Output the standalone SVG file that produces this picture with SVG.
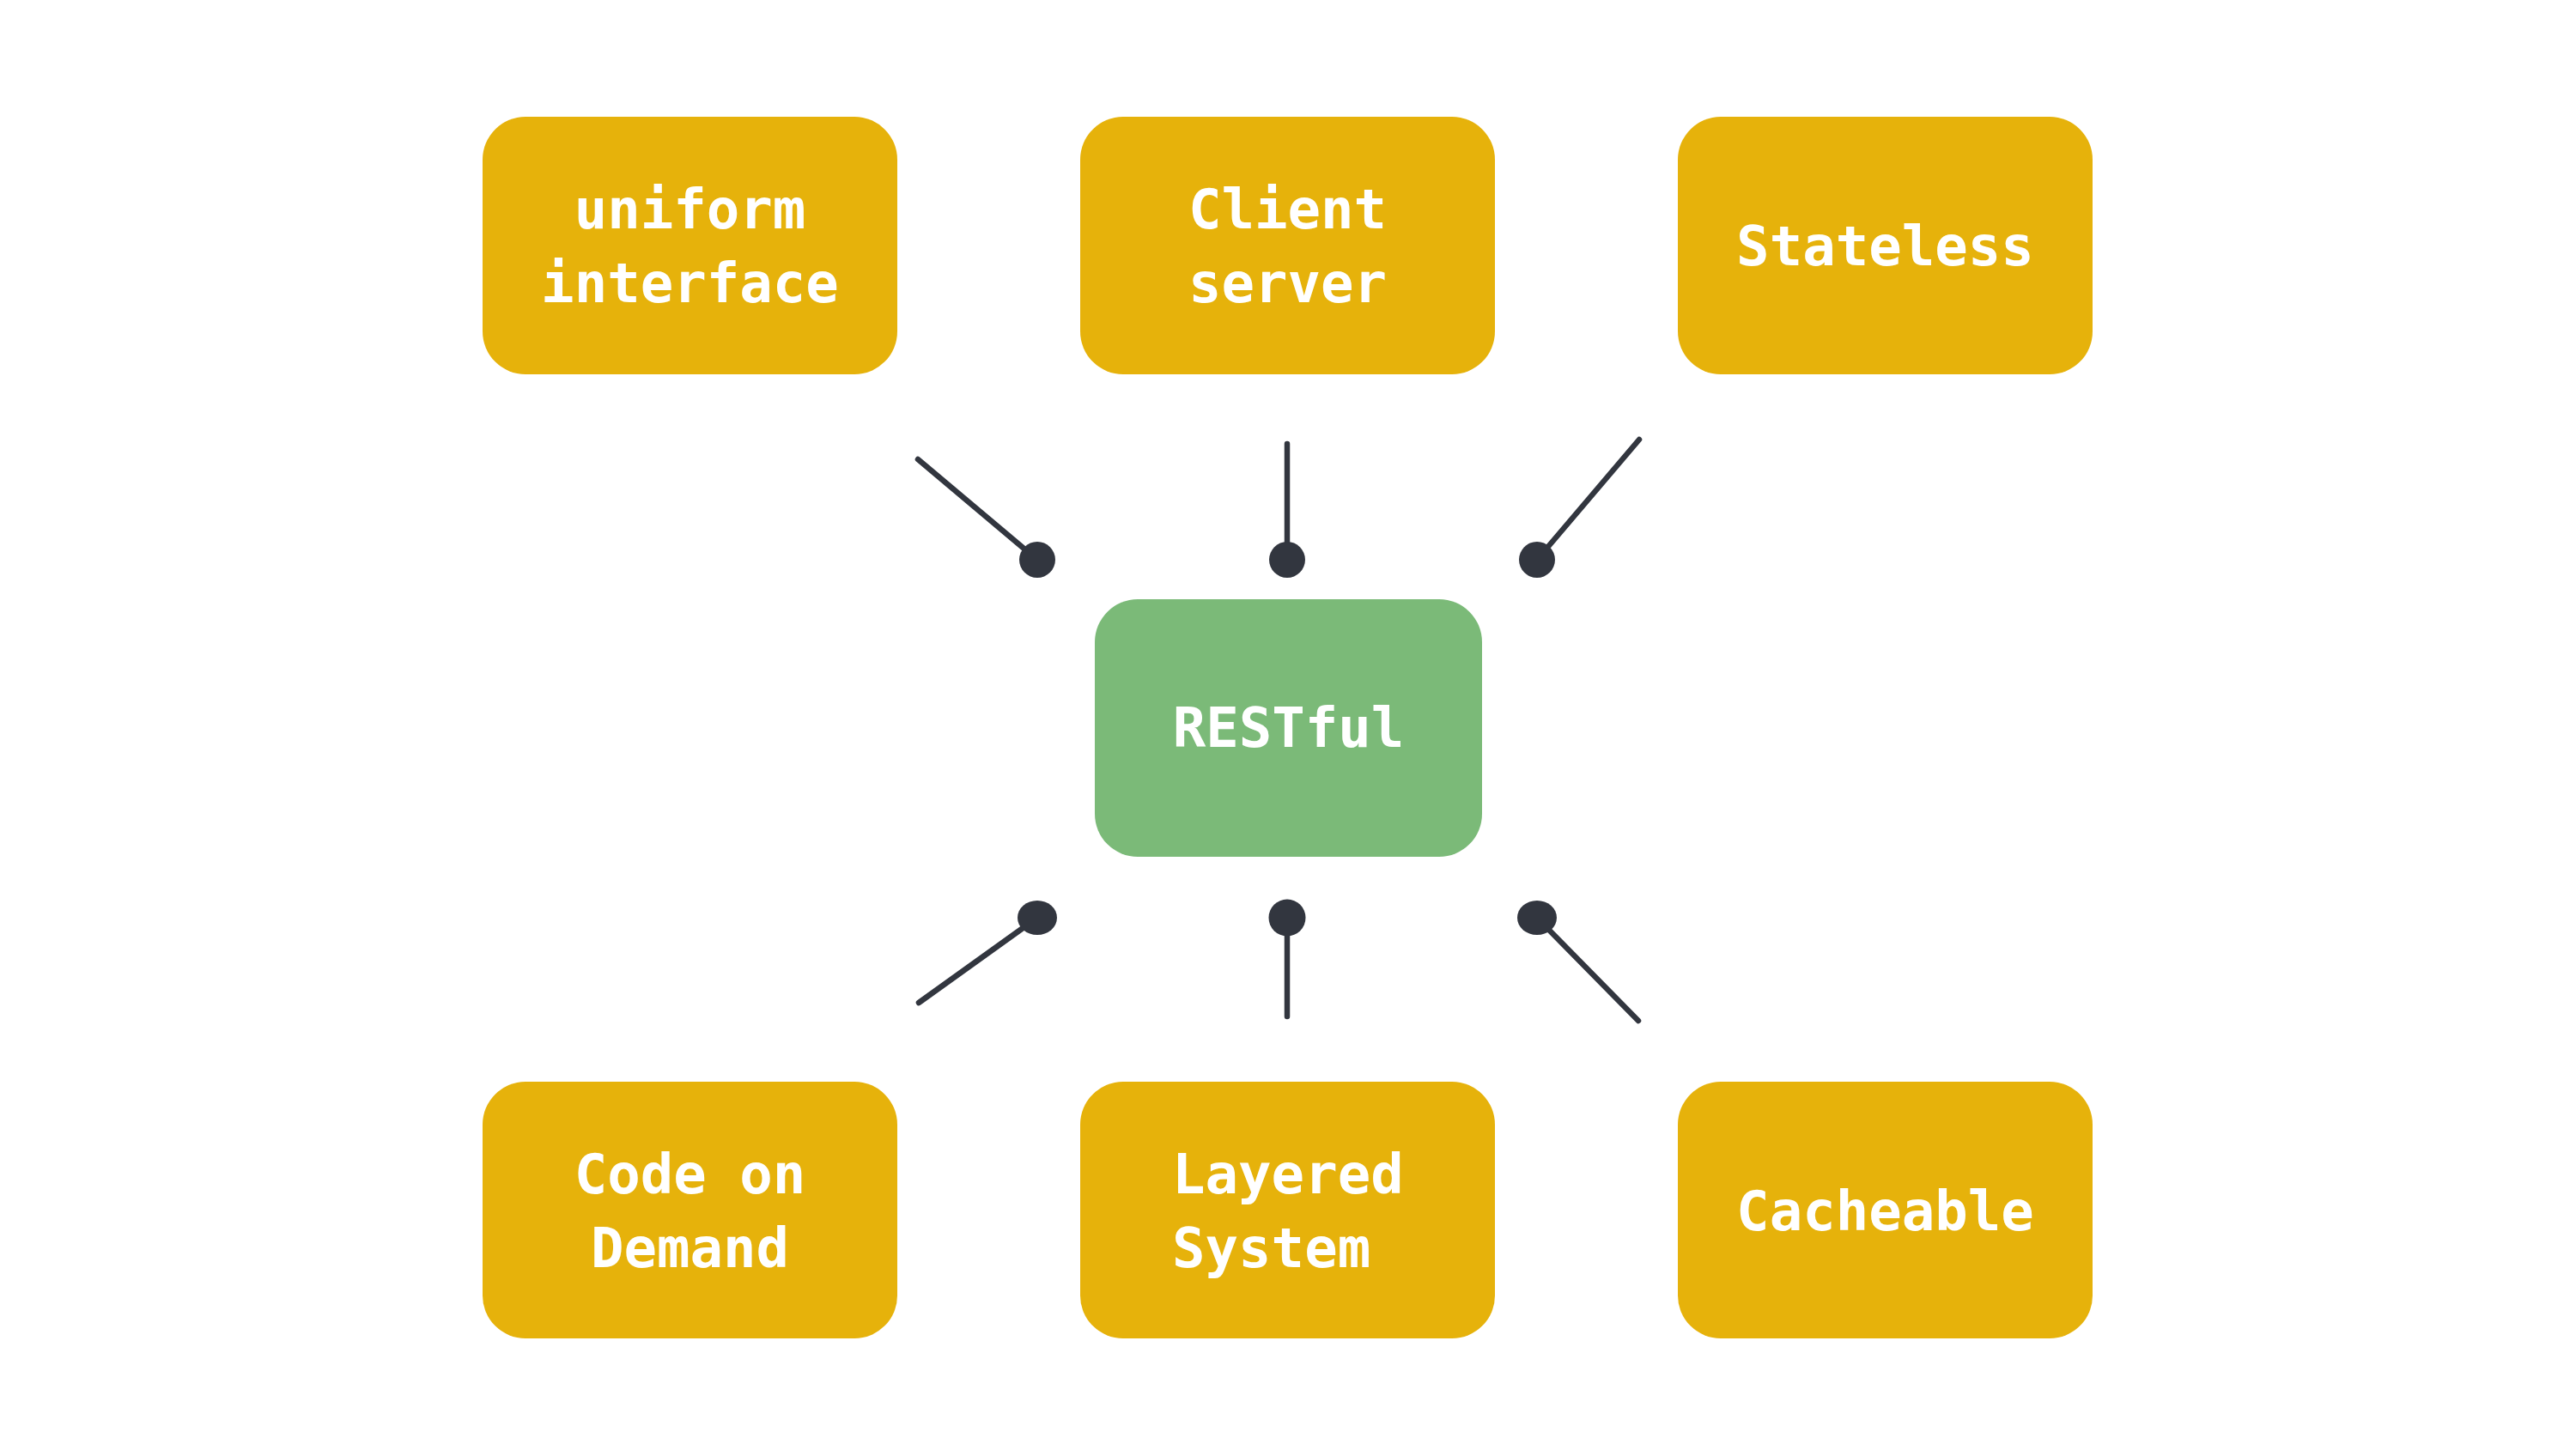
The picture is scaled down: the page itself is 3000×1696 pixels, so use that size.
<svg xmlns="http://www.w3.org/2000/svg" width="3000" height="1696" viewBox="0 0 3000 1696">
  <style>
    .box { fill: #E6B20B; }
    .hub { fill: #7BBA78; }
    .lbl { font-family: "DejaVu Sans Mono", "Liberation Mono", monospace; font-weight: bold; font-size: 64px; fill: #FFFFFF; text-anchor: middle; }
    .lbl-start { text-anchor: start; }
    .conn { stroke: #32363F; stroke-width: 6.5; stroke-linecap: round; fill: none; }
    .dot { fill: #32363F; }
  </style>
  <rect x="0" y="0" width="3000" height="1696" fill="#FFFFFF"/>

  <g id="connectors">
    <line class="conn" x1="1069" y1="535" x2="1208" y2="652"/>
    <circle class="dot" cx="1208" cy="652" r="21"/>
    <line class="conn" x1="1499" y1="517" x2="1499" y2="652"/>
    <circle class="dot" cx="1499" cy="652" r="21"/>
    <line class="conn" x1="1909" y1="512" x2="1790" y2="652"/>
    <circle class="dot" cx="1790" cy="652" r="21"/>
    <line class="conn" x1="1070" y1="1168" x2="1208" y2="1069"/>
    <ellipse class="dot" cx="1208" cy="1069" rx="23" ry="20"/>
    <line class="conn" x1="1499" y1="1184" x2="1499" y2="1069"/>
    <circle class="dot" cx="1499" cy="1069" r="21.5"/>
    <line class="conn" x1="1908" y1="1189" x2="1790" y2="1069"/>
    <ellipse class="dot" cx="1790" cy="1069" rx="23" ry="20"/>
  </g>

  <g id="node-uniform-interface">
    <rect class="box" x="562" y="136" width="483" height="300" rx="50" ry="50"/>
    <text class="lbl" x="803.5" y="266">uniform</text>
    <text class="lbl" x="803.5" y="352">interface</text>
  </g>

  <g id="node-client-server">
    <rect class="box" x="1258" y="136" width="483" height="300" rx="50" ry="50"/>
    <text class="lbl" x="1499.5" y="266">Client</text>
    <text class="lbl" x="1499.5" y="352">server</text>
  </g>

  <g id="node-stateless">
    <rect class="box" x="1954" y="136" width="483" height="300" rx="50" ry="50"/>
    <text class="lbl" x="2195.5" y="309">Stateless</text>
  </g>

  <g id="node-restful">
    <rect class="hub" x="1275" y="698" width="451" height="300" rx="50" ry="50"/>
    <text class="lbl" x="1500.5" y="870">RESTful</text>
  </g>

  <g id="node-code-on-demand">
    <rect class="box" x="562" y="1260" width="483" height="299" rx="50" ry="50"/>
    <text class="lbl" x="803.5" y="1390">Code on</text>
    <text class="lbl" x="803.5" y="1476">Demand</text>
  </g>

  <g id="node-layered-system">
    <rect class="box" x="1258" y="1260" width="483" height="299" rx="50" ry="50"/>
    <text class="lbl lbl-start" x="1365" y="1390">Layered</text>
    <text class="lbl lbl-start" x="1365" y="1476">System</text>
  </g>

  <g id="node-cacheable">
    <rect class="box" x="1954" y="1260" width="483" height="299" rx="50" ry="50"/>
    <text class="lbl" x="2195.5" y="1433">Cacheable</text>
  </g>
</svg>
